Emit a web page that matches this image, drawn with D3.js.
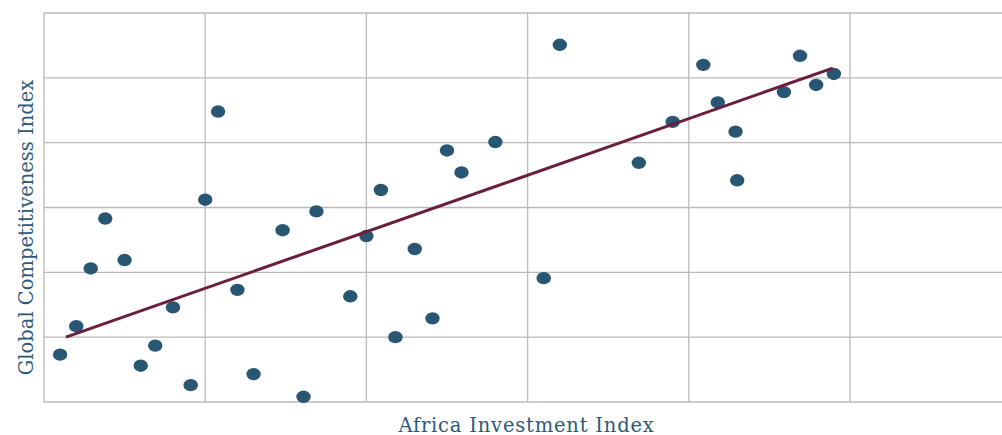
<!DOCTYPE html>
<html>
<head>
<meta charset="utf-8">
<script src="https://cdn.jsdelivr.net/npm/d3@7"></script>
<style>
  body { margin: 0; background: #fff; }
  svg { display: block; }
  .label { font-family: "DejaVu Serif", serif; fill: #2d5a78; font-size: 19.5px; }
</style>
</head>
<body>
<svg width="1002" height="435"></svg>
<script>
// values (index units, no tick labels shown)
const aii = [0.10, 0.20, 0.29, 0.38, 0.50, 0.60, 0.69, 0.80, 0.91, 1.00,
             1.08, 1.20, 1.30, 1.48, 1.61, 1.69, 1.90, 2.00, 2.09, 2.18,
             2.30, 2.41, 2.50, 2.59, 2.80, 3.10, 3.20, 3.69, 3.90, 4.09,
             4.18, 4.29, 4.30, 4.59, 4.69, 4.79, 4.90];
const gci = [0.73, 1.17, 2.06, 2.83, 2.19, 0.56, 0.87, 1.46, 0.26, 3.12,
             4.48, 1.73, 0.43, 2.65, 0.08, 2.94, 1.63, 2.56, 3.27, 1.00,
             2.36, 1.29, 3.88, 3.54, 4.01, 1.91, 5.51, 3.69, 4.32, 5.20,
             4.62, 4.17, 3.42, 4.78, 5.34, 4.89, 5.06];
const trendX = [0.136, 4.893];
const trendY = [1.00, 5.15];
const xTicks = [0, 1, 2, 3, 4, 5, 6];
const yTicks = [0, 1, 2, 3, 4, 5, 6];

const svg = d3.select("svg");
const padLeft = 44, padTop = 13, padBottom = 402;

const x = d3.scaleLinear().domain([0, 6]).range([padLeft, padLeft + 6 * 161.2]);
const y = d3.scaleLinear().domain([0, 6]).range([padBottom, padTop]);

// grid
const grid = svg.append("g").attr("stroke", "#bcb9b6").attr("stroke-width", 1.3);
grid.selectAll(".h").data(yTicks).enter().append("line")
  .attr("x1", padLeft).attr("x2", 1002)
  .attr("y1", d => y(d)).attr("y2", d => y(d));
grid.selectAll(".v").data(xTicks.slice(0, 6)).enter().append("line")
  .attr("x1", d => x(d)).attr("x2", d => x(d))
  .attr("y1", padTop).attr("y2", padBottom);

// points
const pts = aii.map((v, i) => ({ x: v, y: gci[i] }));
svg.append("g").selectAll("ellipse").data(pts).enter().append("ellipse")
  .attr("cx", d => x(d.x))
  .attr("cy", d => y(d.y))
  .attr("rx", 7.2)
  .attr("ry", 6.2)
  .attr("fill", "#285673");

// trend line
const line = d3.line().x(d => x(d[0])).y(d => y(d[1]));
svg.append("path")
  .datum(trendX.map((v, i) => [v, trendY[i]]))
  .attr("d", line)
  .attr("fill", "none")
  .attr("stroke", "#6b1d3c")
  .attr("stroke-width", 3);

// axis titles
svg.append("text").attr("class", "label")
  .attr("x", 526.5).attr("y", 431.5)
  .attr("text-anchor", "middle")
  .style("letter-spacing", "0.8px")
  .text("Africa Investment Index");

svg.append("text").attr("class", "label")
  .attr("transform", "translate(32.5,227.5) rotate(-90)")
  .attr("text-anchor", "middle")
  .text("Global Competitiveness Index");
</script>
</body>
</html>
